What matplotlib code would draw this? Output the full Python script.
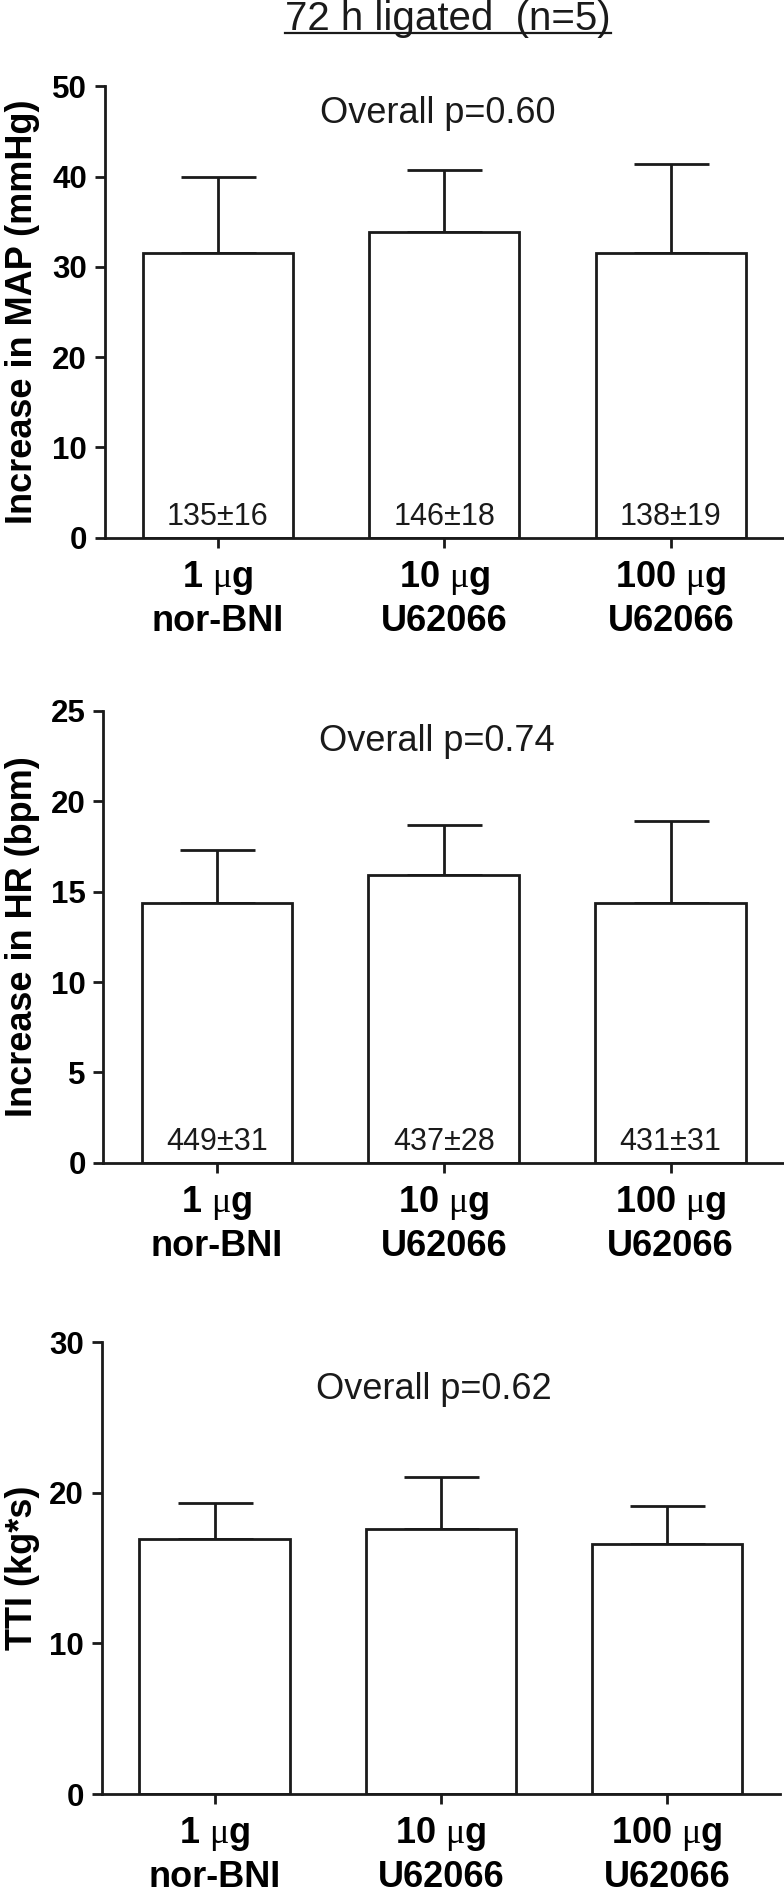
import matplotlib
matplotlib.use("Agg")
import matplotlib.pyplot as plt
from matplotlib.lines import Line2D
import numpy as np

plt.rcParams['font.family'] = ['Liberation Sans', 'DejaVu Sans']
plt.rcParams['mathtext.fontset'] = 'custom'
plt.rcParams['mathtext.rm'] = 'Liberation Serif'

# ---------------- data ----------------
categories = ['1 $\\mathrm{\\mu}$g\nnor-BNI', '10 $\\mathrm{\\mu}$g\nU62066', '100 $\\mathrm{\\mu}$g\nU62066']

map_mean = [31.5, 33.9, 31.5]
map_sem = [8.5, 6.8, 9.9]
map_baseline = ['135±16', '146±18', '138±19']

hr_mean = [14.4, 15.9, 14.4]
hr_sem = [2.9, 2.8, 4.5]
hr_baseline = ['449±31', '437±28', '431±31']

tti_mean = [16.9, 17.6, 16.6]
tti_sem = [2.45, 3.45, 2.5]

p_values = ['Overall p=0.60', 'Overall p=0.74', 'Overall p=0.62']
ylabels = ['Increase in MAP (mmHg)', 'Increase in HR (bpm)', 'TTI (kg*s)']
yticks = [[0, 10, 20, 30, 40, 50], [0, 5, 10, 15, 20, 25], [0, 10, 20, 30]]
title = '72 h ligated  (n=5)'

W, H = 784, 1900
fig = plt.figure(figsize=(W / 100, H / 100), dpi=100)

# axes boxes in pixels: left, top, right, bottom
boxes = [(104.5, 86.4, 784, 537.5),
         (103.5, 710.9, 784, 1162.8),
         (101.5, 1342.1, 780, 1794.0)]
p_y = [0.919, 0.911, 0.874]
label_x_px = 40

means = [map_mean, hr_mean, tti_mean]
sems = [map_sem, hr_sem, tti_sem]
baselines = [map_baseline, hr_baseline, None]

LW = 2.0
INK = '#1a1a1a'
for k in range(3):
    l, t, r, b = boxes[k]
    ax = fig.add_axes([l / W, 1 - b / H, (r - l) / W, (b - t) / H])
    x = np.arange(len(categories))
    ax.errorbar(x, means[k], yerr=[np.zeros(3), sems[k]], fmt='none',
                ecolor=INK, elinewidth=LW, capsize=27, capthick=LW, zorder=1)
    ax.bar(x, means[k], width=0.664, color='white', edgecolor=INK,
           linewidth=LW, zorder=2)
    ax.set_xlim(-0.5, 2.5)
    ax.set_ylim(0, yticks[k][-1])
    ax.set_yticks(yticks[k])
    ax.set_xticks(x)
    ax.set_xticklabels(categories, fontsize=26, fontweight='bold')
    for lab in ax.get_xticklabels():
        lab.set_linespacing(1.27)
    ax.tick_params(axis='y', labelsize=22.5, length=7.2, width=LW, pad=5.5, color=INK)
    ax.tick_params(axis='x', length=7.2, width=LW, pad=8, color=INK)
    for lab in ax.get_yticklabels():
        lab.set_fontweight('bold')
    for s in ['top', 'right']:
        ax.spines[s].set_visible(False)
    for s in ['left', 'bottom']:
        ax.spines[s].set_linewidth(LW)
        ax.spines[s].set_color(INK)
    ax.set_ylabel(ylabels[k], fontsize=26, fontweight='bold')
    ax.yaxis.set_label_coords((label_x_px - l) / (r - l), 0.5)
    ax.text(0.97, p_y[k], p_values[k], transform=ax.get_xaxis_transform(),
            ha='center', va='baseline', fontsize=26, color=INK)
    if baselines[k] is not None:
        for i, s in enumerate(baselines[k]):
            ax.annotate(s, xy=(i, 0), xytext=(0, 9), textcoords='offset points',
                        ha='center', va='baseline', fontsize=22, color=INK)

tt = fig.text(448 / W, 1 - 30 / H, title, ha='center', va='baseline',
              fontsize=29, color=INK)
fig.canvas.draw()
bb = tt.get_window_extent()
uy = 1 - 33 / H
fig.add_artist(Line2D([bb.x0 / W, bb.x1 / W], [uy, uy], transform=fig.transFigure,
                      color=INK, linewidth=1.6))

fig.savefig('out.png', dpi=100, facecolor='white')
